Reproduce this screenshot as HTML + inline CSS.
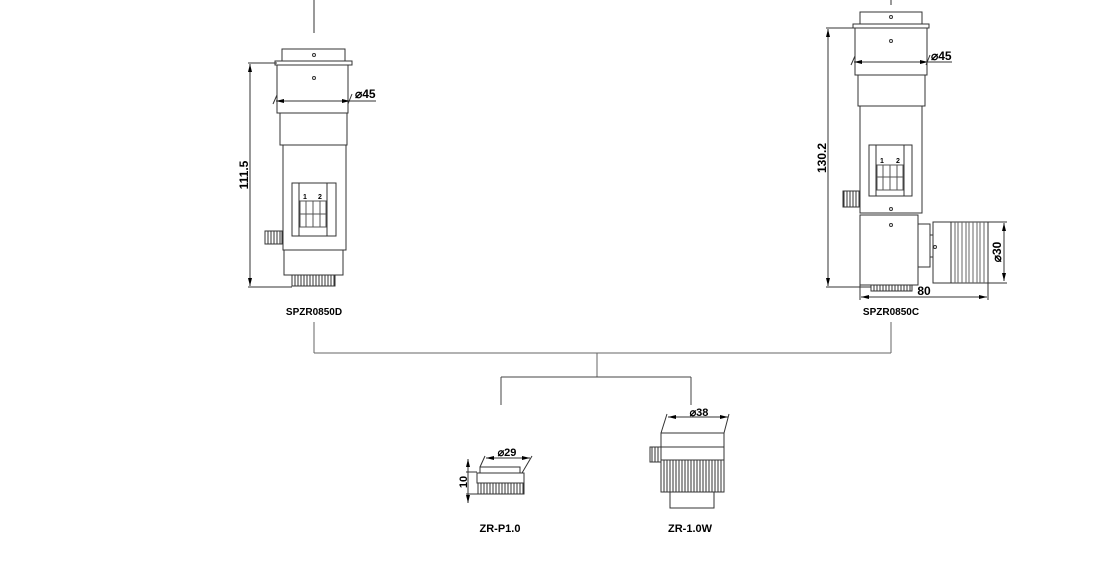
<!DOCTYPE html>
<html><head><meta charset="utf-8"><style>
html,body{margin:0;padding:0;background:#fff;}
svg{display:block;}
text{font-family:"Liberation Sans",sans-serif;font-weight:bold;fill:#000;}
</style></head><body>
<svg width="1118" height="571" viewBox="0 0 1118 571" xmlns="http://www.w3.org/2000/svg">
<defs>
<marker id="a" markerWidth="8" markerHeight="6" refX="8" refY="3" orient="auto-start-reverse" markerUnits="userSpaceOnUse"><path d="M0,1 L8,3 L0,5 z" fill="#000"/></marker>
<pattern id="kn" width="3" height="10" patternUnits="userSpaceOnUse"><rect width="3" height="10" fill="#fff"/><line x1="1" y1="0" x2="1" y2="10" stroke="#333" stroke-width="1"/></pattern>
</defs>
<g stroke="#333" stroke-width="1" fill="none">
<!-- connectors -->
<line x1="314" y1="0" x2="314" y2="33"/>
<line x1="891" y1="0" x2="891" y2="5"/>
<line x1="314" y1="322" x2="314" y2="353" stroke="#666"/>
<line x1="891" y1="322" x2="891" y2="353" stroke="#666"/>
<line x1="314" y1="353" x2="891" y2="353" stroke="#666"/>
<line x1="597" y1="353" x2="597" y2="377" stroke="#666"/>
<line x1="501" y1="377" x2="691" y2="377" stroke="#444"/>
<line x1="501" y1="377" x2="501" y2="405" stroke="#444"/>
<line x1="691" y1="377" x2="691" y2="405" stroke="#444"/>

<!-- LEFT DEVICE -->
<rect x="282" y="49" width="63" height="12"/>
<rect x="275" y="61" width="77" height="4"/>
<rect x="277" y="65" width="71" height="48"/>
<rect x="280" y="113" width="67" height="32"/>
<rect x="283" y="145" width="63" height="105"/>
<rect x="292" y="183" width="44" height="53"/>
<line x1="299" y1="183" x2="299" y2="236"/><line x1="327" y1="183" x2="327" y2="236"/>
<rect x="300" y="201" width="26" height="26" stroke="#555"/>
<line x1="300" y1="214" x2="326" y2="214" stroke="#555"/>
<line x1="306" y1="201" x2="306" y2="227" stroke="#555"/><line x1="313" y1="201" x2="313" y2="227" stroke="#555"/><line x1="320" y1="201" x2="320" y2="227" stroke="#555"/>
<rect x="265" y="231" width="17" height="13" fill="url(#kn)"/>
<rect x="284" y="250" width="59" height="25"/>
<rect x="292" y="275" width="43" height="11" fill="url(#kn)"/>
<circle cx="314" cy="55" r="1.5"/><circle cx="314" cy="78" r="1.5"/>
<line x1="250" y1="64" x2="250" y2="286" marker-start="url(#a)" marker-end="url(#a)"/>
<line x1="248" y1="63" x2="277" y2="63"/><line x1="248" y1="287" x2="292" y2="287"/>
<line x1="276" y1="101" x2="350" y2="101" marker-start="url(#a)" marker-end="url(#a)"/>
<line x1="273" y1="104" x2="277" y2="95"/><line x1="348" y1="104" x2="352" y2="94"/>
<line x1="350" y1="101" x2="376" y2="101"/>

<!-- RIGHT DEVICE -->
<rect x="860" y="12" width="62" height="12"/>
<rect x="853" y="24" width="76" height="4"/>
<rect x="855" y="28" width="72" height="47"/>
<rect x="858" y="75" width="67" height="31"/>
<rect x="860" y="106" width="62" height="107"/>
<rect x="869" y="145" width="43" height="51"/>
<line x1="876" y1="145" x2="876" y2="196"/><line x1="904" y1="145" x2="904" y2="196"/>
<rect x="877" y="165" width="26" height="25" stroke="#555"/>
<line x1="877" y1="177" x2="903" y2="177" stroke="#555"/>
<line x1="883" y1="165" x2="883" y2="190" stroke="#555"/><line x1="890" y1="165" x2="890" y2="190" stroke="#555"/><line x1="897" y1="165" x2="897" y2="190" stroke="#555"/>
<rect x="843" y="191" width="17" height="16" fill="url(#kn)"/>
<rect x="860" y="215" width="58" height="70"/>
<rect x="918" y="224" width="12" height="43"/>
<rect x="930" y="235" width="3" height="22"/>
<rect x="933" y="222" width="55" height="61"/>
<line x1="951" y1="222" x2="951" y2="283"/>
<g stroke="#666"><line x1="955" y1="222" x2="955" y2="283"/><line x1="958" y1="222" x2="958" y2="283"/><line x1="962" y1="222" x2="962" y2="283"/><line x1="966" y1="222" x2="966" y2="283"/><line x1="969" y1="222" x2="969" y2="283"/><line x1="973" y1="222" x2="973" y2="283"/><line x1="977" y1="222" x2="977" y2="283"/><line x1="980" y1="222" x2="980" y2="283"/><line x1="984" y1="222" x2="984" y2="283"/></g>
<rect x="871" y="285" width="41" height="6" fill="url(#kn)"/>
<circle cx="891" cy="17" r="1.5"/><circle cx="891" cy="41" r="1.5"/><circle cx="891" cy="209" r="1.5"/><circle cx="891" cy="225" r="1.5"/><circle cx="935" cy="247" r="1.5"/>
<line x1="828" y1="29" x2="828" y2="286" marker-start="url(#a)" marker-end="url(#a)"/>
<line x1="826" y1="28" x2="855" y2="28"/><line x1="826" y1="287" x2="871" y2="287"/>
<line x1="854" y1="62" x2="928" y2="62" marker-start="url(#a)" marker-end="url(#a)"/>
<line x1="851" y1="65" x2="855" y2="56"/><line x1="926" y1="65" x2="930" y2="55"/>
<line x1="928" y1="62" x2="952" y2="62"/>
<line x1="1004" y1="223" x2="1004" y2="281" marker-start="url(#a)" marker-end="url(#a)"/>
<line x1="988" y1="222" x2="1007" y2="222"/><line x1="988" y1="283" x2="1007" y2="283"/>
<line x1="861" y1="297" x2="987" y2="297" marker-start="url(#a)" marker-end="url(#a)"/>
<line x1="860" y1="285" x2="860" y2="300"/><line x1="988" y1="283" x2="988" y2="300"/>

<!-- ZR-P1.0 -->
<rect x="480" y="467" width="40" height="6"/>
<rect x="477" y="473" width="47" height="10"/>
<rect x="478" y="483" width="46" height="11" fill="url(#kn)"/>
<line x1="468" y1="459" x2="468" y2="503" marker-start="url(#a)" marker-end="url(#a)"/>
<line x1="466" y1="472" x2="477" y2="472"/><line x1="466" y1="494" x2="478" y2="494"/>
<line x1="486" y1="458" x2="530" y2="458" marker-start="url(#a)" marker-end="url(#a)"/>
<line x1="480" y1="467" x2="485" y2="456"/><line x1="522" y1="473" x2="532" y2="456"/>

<!-- ZR-1.0W -->
<rect x="661" y="433" width="63" height="14"/>
<rect x="661" y="447" width="63" height="13"/>
<rect x="661" y="460" width="63" height="32" fill="url(#kn)"/>
<rect x="670" y="492" width="44" height="16"/>
<rect x="650" y="447" width="11" height="15" fill="url(#kn)"/>
<line x1="668" y1="417" x2="728" y2="417" marker-start="url(#a)" marker-end="url(#a)"/>
<line x1="661" y1="433" x2="667" y2="414"/><line x1="724" y1="433" x2="729" y2="414"/>
</g>
<!-- text -->
<text x="355" y="98" font-size="12">⌀45</text>
<text x="931" y="60" font-size="12">⌀45</text>
<text transform="translate(248,175) rotate(-90)" font-size="12" text-anchor="middle">111.5</text>
<text transform="translate(826,158) rotate(-90)" font-size="12" text-anchor="middle">130.2</text>
<text transform="translate(1001,252) rotate(-90)" font-size="12" text-anchor="middle">⌀30</text>
<text x="924" y="295" font-size="12" text-anchor="middle">80</text>
<text x="314" y="315" font-size="10" text-anchor="middle">SPZR0850D</text>
<text x="891" y="315" font-size="10" text-anchor="middle">SPZR0850C</text>
<text x="507" y="456" font-size="11" text-anchor="middle">⌀29</text>
<text transform="translate(467,482) rotate(-90)" font-size="11" text-anchor="middle">10</text>
<text x="699" y="416" font-size="11" text-anchor="middle">⌀38</text>
<text x="500" y="532" font-size="11" text-anchor="middle">ZR-P1.0</text>
<text x="690" y="532" font-size="11" text-anchor="middle">ZR-1.0W</text>
<text x="305" y="199" font-size="7" text-anchor="middle">1</text><text x="320" y="199" font-size="7" text-anchor="middle">2</text>
<text x="882" y="163" font-size="7" text-anchor="middle">1</text><text x="898" y="163" font-size="7" text-anchor="middle">2</text>
</svg>
</body></html>
